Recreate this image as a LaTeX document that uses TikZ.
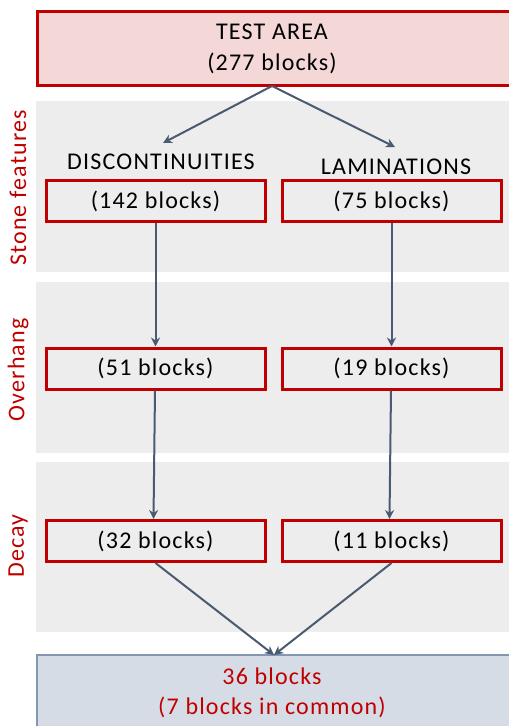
\documentclass[tikz,border=0pt]{standalone}
\usepackage{fontspec}
\setmainfont[LetterSpace=5]{Carlito}
\usetikzlibrary{arrows.meta}
\definecolor{bandgray}{HTML}{EDEDED}
\definecolor{boxred}{HTML}{C00000}
\definecolor{pinkfill}{HTML}{F4D7D7}
\definecolor{bluefill}{HTML}{D6DCE5}
\definecolor{blueedge}{HTML}{8497B0}
\definecolor{arrowcol}{HTML}{4A5A70}
\tikzset{
  band/.style={fill=bandgray, draw=none},
  redbox/.style={draw=boxred, line width=3pt, fill=none, minimum width=219pt, minimum height=41pt, inner sep=0pt, font=\fontsize{24}{28}\selectfont},
  flow/.style={draw=arrowcol, line width=2pt, -{Stealth[length=9pt,width=9pt]}},
  sidelabel/.style={text=boxred, rotate=90, font=\fontsize{24}{28}\selectfont},
  plain/.style={font=\fontsize{24}{28}\selectfont, inner sep=0pt}
}
\begin{document}
\begin{tikzpicture}[x=1pt,y=-1pt]
\useasboundingbox (0,0) rectangle (509,726);
\clip (0,0) rectangle (509,726);
% bands
\fill[band] (36,101) rectangle (515,272);
\fill[band] (36,282) rectangle (515,453);
\fill[band] (36,462) rectangle (515,632);
% top box
\node[draw=boxred, line width=3pt, fill=pinkfill, minimum width=478pt, minimum height=74pt, inner sep=0pt, anchor=north west] (top) at (36,10) {};
\node[plain] (toptxt1) at (272,32) {TEST AREA};
\node[plain] (toptxt2) at (272,63) {(277 blocks)};
% bottom box
\node[draw=blueedge, line width=2pt, fill=bluefill, minimum width=478pt, minimum height=90pt, inner sep=0pt, anchor=north west] (bot) at (36,654) {};
\node[plain, text=boxred] (bottxt1) at (272,676) {36 blocks};
\node[plain, text=boxred] (bottxt2) at (272,707) {(7 blocks in common)};
% headers
\node[plain] (disc) at (161,162) {DISCONTINUITIES};
\node[plain] (lam) at (396,167) {LAMINATIONS};
% boxes
\node[redbox] (b142) at (155.5,201) {(142 blocks)};
\node[redbox] (b75) at (391.5,201) {(75 blocks)};
\node[redbox] (b51) at (155.5,368.5) {(51 blocks)};
\node[redbox] (b19) at (391.5,368.5) {(19 blocks)};
\node[redbox] (b32) at (155.5,541) {(32 blocks)};
\node[redbox] (b11) at (391.5,541) {(11 blocks)};
% side labels
\node[sidelabel] (s1) at (18,188) {Stone features};
\node[sidelabel] (s2) at (18,370) {Overhang};
\node[sidelabel] (s3) at (18,546) {Decay};
% arrows
\coordinate (topbot) at (272,86);
\coordinate (botin) at (274,655);
\draw[flow] (topbot) -- (163,143);
\draw[flow] (topbot) -- (395,147);
\draw[flow] (b142.south) -- (b51.north);
\draw[flow] (b75.south) -- (b19.north);
\draw[flow] ([xshift=-0.5pt]b51.south) -- ([xshift=-2pt]b32.north);
\draw[flow] ([xshift=-0.5pt]b19.south) -- ([xshift=-2pt]b11.north);
\draw[flow] (b32.south) -- (botin);
\draw[flow] (b11.south) -- (botin);
\end{tikzpicture}
\end{document}
